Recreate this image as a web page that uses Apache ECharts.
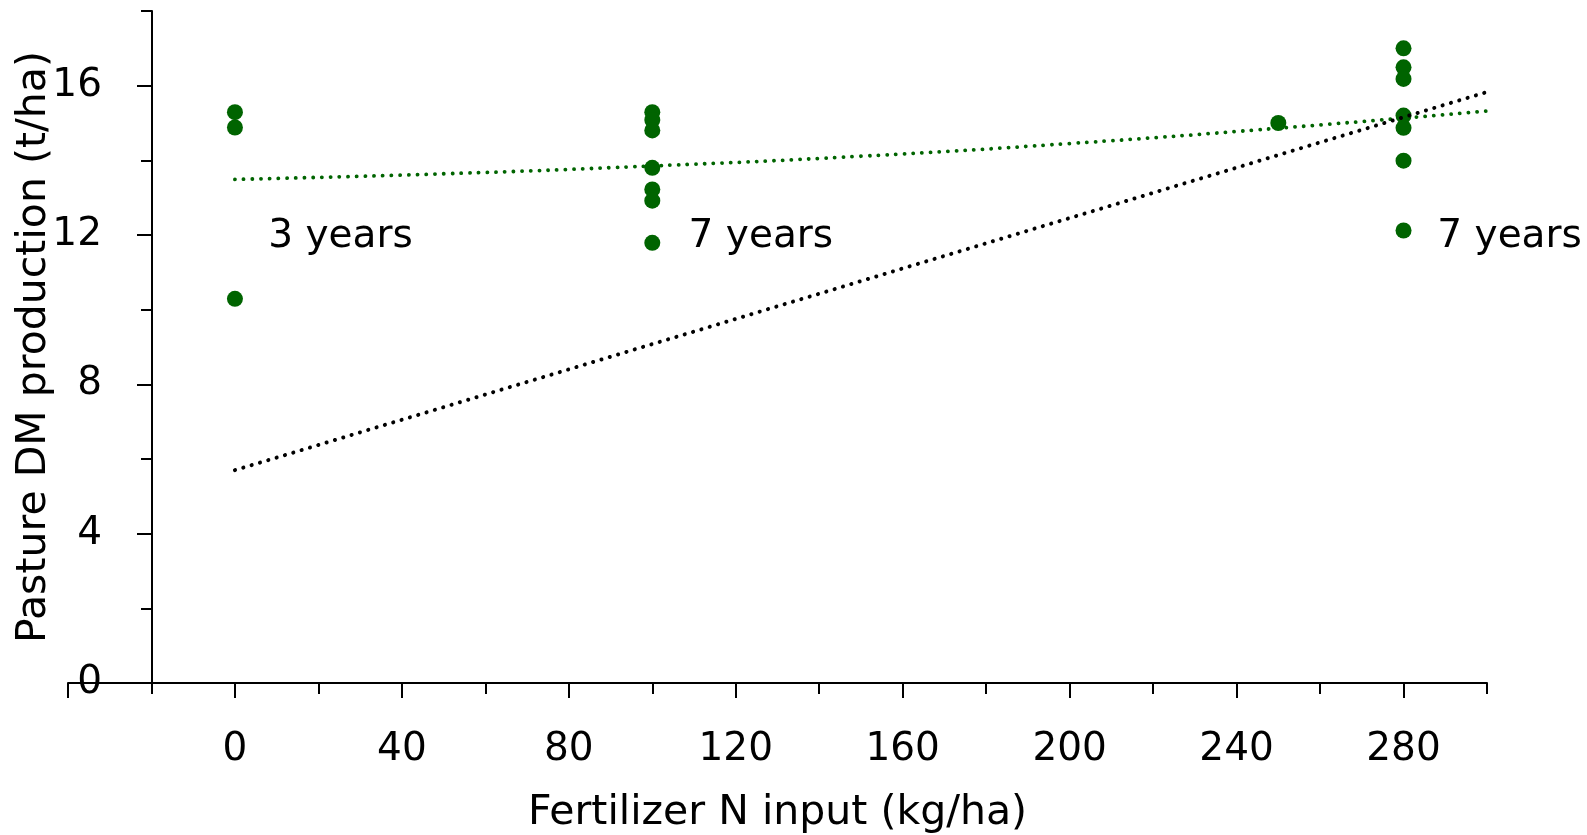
<!DOCTYPE html>
<html>
<head>
<meta charset="utf-8">
<script src="https://cdn.jsdelivr.net/npm/echarts@6/dist/echarts.min.js"></script>
<style>
html,body{margin:0;padding:0;background:#fff;}
#chart{width:1587px;height:835px;}
</style>
</head>
<body>
<div id="chart"></div>
<script>
// ---- data ----
const nInput0 = [0, 0, 0];
const yield0 = [15.29, 14.88, 10.29];
const nInput100 = [100, 100, 100, 100, 100, 100, 100];
const yield100 = [15.29, 15.08, 14.80, 13.80, 13.22, 12.92, 11.79];
const nInput250 = [250];
const yield250 = [15.00];
const nInput280 = [280, 280, 280, 280, 280, 280, 280];
const yield280 = [17.00, 16.49, 16.18, 15.20, 14.87, 13.99, 12.12];
const greenTrendX = [0, 50, 100, 150, 200, 250, 300];
const greenTrendY = [13.49, 13.64, 13.85, 14.11, 14.45, 14.86, 15.32];
const blackTrendX = [0, 300];
const blackTrendY = [5.70, 15.83];
const noteText = ['3 years', '7 years', '7 years'];
const noteX = [8, 108.7, 288.1];
const noteY = [11.95, 11.95, 11.95];
const xTickLabels = [0, 40, 80, 120, 160, 200, 240, 280];
const xMajorTicks = [-40, 0, 40, 80, 120, 160, 200, 240, 280];
const yTickLabels = [0, 4, 8, 12, 16];

// ---- build ----
const FONT = 'DejaVu Sans';
const GREEN = '#006400';
const pts = [];
[[nInput0, yield0], [nInput100, yield100], [nInput250, yield250], [nInput280, yield280]].forEach(([xs, ys]) => {
  xs.forEach((x, i) => pts.push([x, ys[i]]));
});
const zip = (a, b) => a.map((v, i) => [v, b[i]]);
const notes = noteText.map((t, i) => [noteX[i], noteY[i], t]);

const chart = echarts.init(document.getElementById('chart'));
const gridPos = {top: 11, bottom: 152, right: 100, outerBoundsMode: 'none', containLabel: false};
chart.setOption({
  animation: false,
  backgroundColor: '#fff',
  textStyle: {fontFamily: FONT},
  grid: [
    Object.assign({left: 68}, gridPos),
    Object.assign({left: 152}, gridPos)
  ],
  xAxis: [
    {
      type: 'value', gridIndex: 0, min: -40, max: 300, interval: 20, position: 'bottom',
      axisLine: {show: true, onZero: false, lineStyle: {color: '#000', width: 2}},
      axisTick: {show: true, length: 11, lineStyle: {color: '#000', width: 2}},
      axisLabel: {show: false},
      splitLine: {show: false}
    },
    {
      type: 'value', gridIndex: 0, min: -40, max: 300, position: 'bottom',
      axisLine: {show: false, onZero: false},
      axisTick: {show: true, length: 15, customValues: xMajorTicks, lineStyle: {color: '#000', width: 2}},
      axisLabel: {show: true, customValues: xTickLabels, margin: 47, color: '#000', fontSize: 39, fontFamily: FONT},
      splitLine: {show: false},
      name: 'Fertilizer N input (kg/ha)', nameLocation: 'middle', nameGap: 110, nameMoveOverlap: false,
      nameTextStyle: {color: '#000', fontSize: 41, fontFamily: FONT}
    },
    {type: 'value', gridIndex: 1, min: -40, max: 300, show: false}
  ],
  yAxis: [
    {type: 'value', gridIndex: 0, min: 0, max: 18, show: false},
    {
      type: 'value', gridIndex: 1, min: 0, max: 18, interval: 2, position: 'left',
      axisLine: {show: true, onZero: false, lineStyle: {color: '#000', width: 2}},
      axisTick: {show: true, length: 11, lineStyle: {color: '#000', width: 2}},
      axisLabel: {show: false},
      splitLine: {show: false}
    },
    {
      type: 'value', gridIndex: 1, min: 0, max: 18, position: 'left',
      axisLine: {show: false, onZero: false},
      axisTick: {show: true, length: 15, customValues: yTickLabels, lineStyle: {color: '#000', width: 2}},
      axisLabel: {show: true, customValues: yTickLabels, margin: 50, color: '#000', fontSize: 39, fontFamily: FONT},
      splitLine: {show: false},
      name: 'Pasture DM production (t/ha)', nameLocation: 'middle', nameGap: 97, nameRotate: 90,
      nameMoveOverlap: false,
      nameTextStyle: {color: '#000', fontSize: 41, fontFamily: FONT}
    }
  ],
  series: [
    {
      type: 'scatter', xAxisIndex: 0, yAxisIndex: 0, data: pts,
      symbol: 'circle', symbolSize: 16, itemStyle: {color: GREEN, opacity: 1}, z: 2
    },
    {
      type: 'line', xAxisIndex: 0, yAxisIndex: 0, data: zip(greenTrendX, greenTrendY),
      showSymbol: false, symbol: 'none', smooth: true, z: 3,
      lineStyle: {color: GREEN, width: 3.8, type: [0.1, 8.6], cap: 'round'}
    },
    {
      type: 'line', xAxisIndex: 0, yAxisIndex: 0, data: zip(blackTrendX, blackTrendY),
      showSymbol: false, symbol: 'none', z: 4,
      lineStyle: {color: '#000', width: 4, type: [0.1, 8.6], cap: 'round'}
    },
    {
      type: 'scatter', xAxisIndex: 0, yAxisIndex: 0, data: notes, symbolSize: 0, z: 5,
      itemStyle: {opacity: 1},
      label: {
        show: true, position: [0, 0], align: 'left', verticalAlign: 'middle',
        formatter: p => p.value[2], color: '#000', fontSize: 39, fontFamily: FONT
      }
    }
  ]
});
</script>
</body>
</html>
